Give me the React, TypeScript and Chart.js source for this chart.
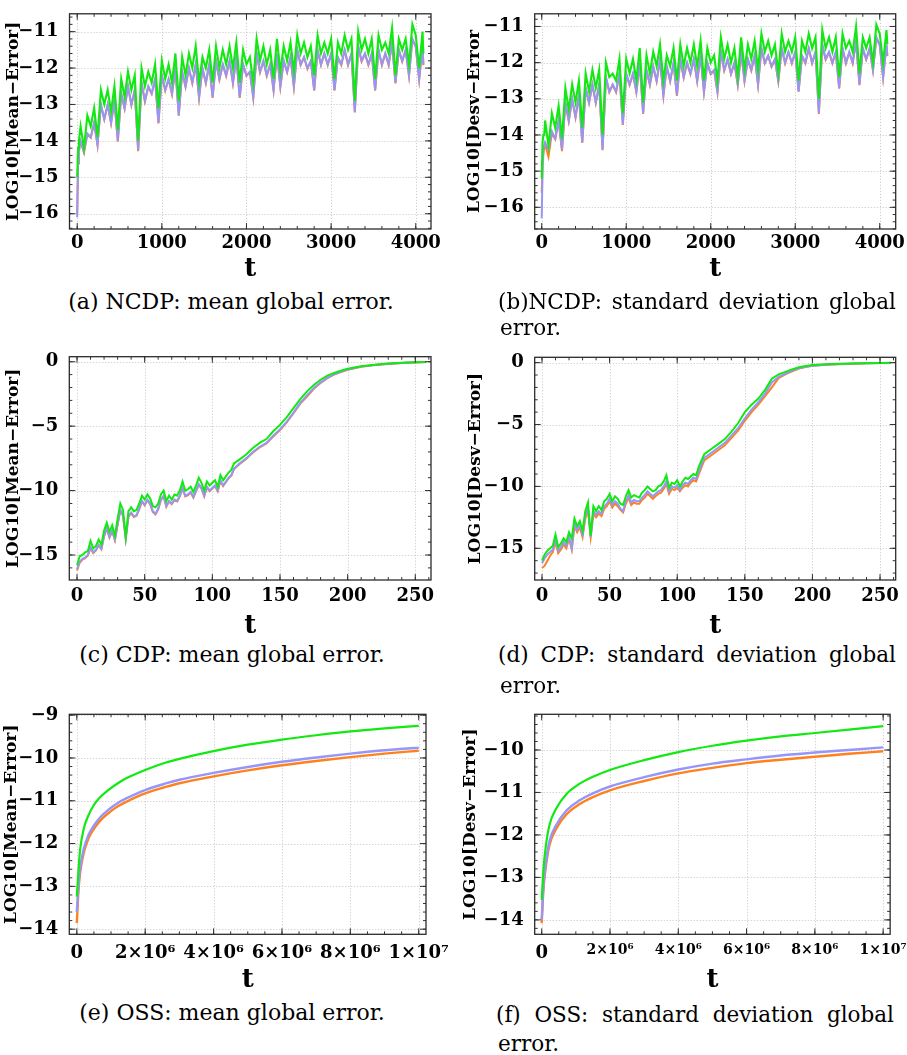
import React, { useEffect, useRef } from 'react';
import { Chart, registerables } from 'chart.js';
Chart.register(...registerables);

const ORANGE = 'rgb(255,128,30)';
const BLUE = 'rgb(150,150,248)';
const GREEN = 'rgb(18,232,18)';
const SERIF = '"DejaVu Serif", serif';

// ---------- NCDP (a, b) ----------
const tN = [
  0, 10, 20, 30, 40, 80, 120, 160, 200, 240,
  280, 320, 360, 400, 440, 480, 520, 560, 600, 640,
  680, 720, 760, 800, 840, 880, 920, 960, 1000, 1040,
  1080, 1120, 1160, 1200, 1240, 1280, 1320, 1360, 1400, 1440,
  1480, 1520, 1560, 1600, 1640, 1680, 1720, 1760, 1800, 1840,
  1880, 1920, 1960, 2000, 2040, 2080, 2120, 2160, 2200, 2240,
  2280, 2320, 2360, 2400, 2440, 2480, 2520, 2560, 2600, 2640,
  2680, 2720, 2760, 2800, 2840, 2880, 2920, 2960, 3000, 3040,
  3080, 3120, 3160, 3200, 3240, 3280, 3320, 3360, 3400, 3440,
  3480, 3520, 3560, 3600, 3640, 3680, 3720, 3760, 3800, 3840,
  3880, 3920, 3960, 4000, 4040, 4080, 4090,
];
const greenA = [
  -15.0, -14.2, -14.0, -13.8, -13.6, -14.2, -13.3, -13.6, -13.1, -13.9,
  -12.6, -13.0, -12.6, -13.2, -12.5, -13.7, -12.3, -12.8, -12.1, -12.6,
  -12.2, -14.0, -12.0, -12.5, -12.1, -12.4, -11.9, -13.1, -11.8, -12.3,
  -11.9, -12.4, -11.6, -12.9, -11.7, -12.2, -11.6, -12.0, -11.4, -12.4,
  -11.7, -12.0, -11.5, -12.4, -11.4, -12.0, -11.5, -11.9, -11.4, -12.0,
  -11.3, -12.4, -11.5, -11.9, -11.7, -12.4, -11.2, -11.8, -11.4, -11.9,
  -11.5, -12.3, -11.2, -12.1, -11.4, -11.8, -11.3, -12.1, -11.1, -11.6,
  -11.3, -11.7, -11.4, -12.2, -11.1, -11.6, -11.3, -11.6, -11.2, -12.3,
  -11.3, -11.6, -11.1, -11.5, -11.2, -12.9, -11.0, -11.5, -11.2, -11.6,
  -11.2, -12.3, -11.1, -11.5, -11.3, -11.6, -10.9, -12.2, -11.2, -11.5,
  -11.2, -11.9, -10.8, -11.1, -12.0, -11.0, -11.6,
];
const blueA = [
  -16.1, -14.6, -14.3, -14.1, -14.0, -14.3, -13.8, -13.9, -13.5, -14.1,
  -13.0, -13.4, -13.0, -13.5, -12.9, -14.0, -12.7, -13.1, -12.5, -13.0,
  -12.6, -14.25, -12.4, -12.9, -12.5, -12.7, -12.3, -13.5, -12.2, -12.6,
  -12.3, -12.7, -12.0, -13.3, -12.1, -12.5, -12.0, -12.4, -11.9, -12.8,
  -12.0, -12.4, -11.9, -12.8, -11.8, -12.3, -11.9, -12.2, -11.8, -12.4,
  -11.7, -12.8, -11.9, -12.2, -12.1, -12.8, -11.6, -12.1, -11.8, -12.2,
  -11.9, -12.6, -11.6, -12.5, -11.8, -12.1, -11.7, -12.5, -11.5, -11.9,
  -11.7, -12.0, -11.8, -12.6, -11.5, -11.9, -11.6, -11.9, -11.6, -12.6,
  -11.7, -11.9, -11.5, -11.9, -11.6, -13.2, -11.4, -11.8, -11.6, -11.9,
  -11.6, -12.6, -11.5, -11.9, -11.6, -11.9, -11.3, -12.4, -11.5, -11.8,
  -11.5, -12.2, -11.2, -11.4, -12.3, -11.4, -11.9,
];
const orangeA = [
  -16.0, -14.62, -14.31, -14.12, -14.02, -14.32, -13.81, -13.91, -13.51, -14.12,
  -13.02, -13.41, -13.01, -13.52, -12.91, -14.02, -12.71, -13.12, -12.51, -13.02,
  -12.61, -14.28, -12.41, -12.92, -12.52, -12.71, -12.31, -13.52, -12.21, -12.62,
  -12.31, -12.72, -12.01, -13.31, -12.11, -12.52, -12.01, -12.42, -11.91, -12.82,
  -12.01, -12.42, -11.91, -12.82, -11.81, -12.32, -11.91, -12.22, -11.81, -12.42,
  -11.71, -12.82, -11.91, -12.22, -12.11, -12.82, -11.61, -12.12, -11.81, -12.22,
  -11.91, -12.62, -11.61, -12.52, -11.81, -12.12, -11.71, -12.52, -11.51, -11.92,
  -11.71, -12.02, -11.81, -12.62, -11.51, -11.92, -11.61, -11.92, -11.61, -12.62,
  -11.71, -11.92, -11.51, -11.92, -11.61, -13.22, -11.41, -11.82, -11.61, -11.92,
  -11.61, -12.62, -11.51, -11.92, -11.61, -11.92, -11.31, -12.42, -11.51, -11.82,
  -11.51, -12.22, -11.21, -11.42, -12.32, -11.41, -11.92,
];
const greenB = [
  -15.2, -14.2, -14.0, -14.0, -13.6, -14.3, -13.4, -13.8, -13.2, -14.1,
  -12.7, -13.3, -12.6, -13.1, -12.5, -13.8, -12.3, -12.8, -12.2, -12.7,
  -12.2, -14.0, -12.0, -12.4, -12.3, -12.5, -11.9, -13.4, -11.9, -12.3,
  -11.9, -12.5, -11.6, -13.1, -11.8, -12.3, -11.7, -12.1, -11.5, -12.5,
  -11.8, -12.1, -11.6, -12.5, -11.5, -12.1, -11.6, -12.0, -11.5, -12.1,
  -11.4, -12.5, -11.6, -12.0, -11.8, -12.5, -11.3, -11.9, -11.5, -12.0,
  -11.6, -12.4, -11.3, -12.2, -11.5, -11.9, -11.4, -12.2, -11.2, -11.7,
  -11.4, -11.8, -11.5, -12.3, -11.2, -11.7, -11.4, -11.7, -11.3, -12.5,
  -11.4, -11.7, -11.2, -11.6, -11.3, -13.0, -11.1, -11.6, -11.3, -11.7,
  -11.3, -12.4, -11.2, -11.6, -11.4, -11.7, -11.0, -12.3, -11.3, -11.6,
  -11.3, -12.0, -10.95, -11.2, -12.0, -11.1, -11.5,
];
const blueB = [
  -16.3, -15.0, -14.4, -14.3, -14.2, -14.4, -13.9, -14.1, -13.6, -14.4,
  -13.1, -13.6, -13.0, -13.5, -12.9, -14.2, -12.7, -13.1, -12.6, -13.1,
  -12.6, -14.4, -12.4, -12.8, -12.6, -12.8, -12.3, -13.7, -12.3, -12.6,
  -12.3, -12.8, -12.0, -13.4, -12.2, -12.6, -12.1, -12.5, -11.9, -12.9,
  -12.1, -12.5, -12.0, -12.9, -11.9, -12.4, -12.0, -12.3, -11.9, -12.5,
  -11.8, -12.8, -12.0, -12.3, -12.2, -12.8, -11.7, -12.2, -11.9, -12.3,
  -12.0, -12.6, -11.7, -12.5, -11.9, -12.2, -11.8, -12.6, -11.6, -12.0,
  -11.8, -12.1, -11.9, -12.5, -11.6, -12.0, -11.7, -12.0, -11.7, -12.8,
  -11.8, -12.0, -11.6, -12.0, -11.7, -13.4, -11.5, -11.9, -11.7, -12.0,
  -11.7, -12.7, -11.6, -12.0, -11.7, -12.0, -11.4, -12.6, -11.6, -11.9,
  -11.6, -12.2, -11.3, -11.5, -12.4, -11.5, -11.8,
];
const orangeB = [
  -15.6, -14.8, -14.5, -14.35, -14.25, -14.6, -13.95, -14.12, -13.62, -14.45,
  -13.12, -13.62, -13.02, -13.52, -12.92, -14.22, -12.72, -13.12, -12.62, -13.12,
  -12.62, -14.42, -12.42, -12.82, -12.62, -12.82, -12.32, -13.72, -12.32, -12.62,
  -12.32, -12.82, -12.02, -13.42, -12.22, -12.62, -12.12, -12.52, -11.92, -12.92,
  -12.12, -12.52, -12.02, -12.92, -11.92, -12.42, -12.02, -12.32, -11.92, -12.52,
  -11.82, -12.82, -12.02, -12.32, -12.22, -12.82, -11.72, -12.22, -11.92, -12.32,
  -12.02, -12.62, -11.72, -12.52, -11.92, -12.22, -11.82, -12.62, -11.62, -12.02,
  -11.82, -12.12, -11.92, -12.52, -11.62, -12.02, -11.72, -12.02, -11.72, -12.8,
  -11.82, -12.02, -11.62, -12.02, -11.72, -13.42, -11.52, -11.92, -11.72, -12.02,
  -11.72, -12.72, -11.62, -12.02, -11.72, -12.02, -11.42, -12.62, -11.62, -11.92,
  -11.62, -12.22, -11.32, -11.52, -12.42, -11.52, -11.82,
];

// ---------- CDP (c, d) ----------
const tC = [
  0, 2, 4, 6, 8, 10, 12, 14, 16, 18,
  20, 22, 24, 26, 28, 30, 32, 34, 36, 38,
  40, 42, 44, 46, 48, 50, 52, 54, 56, 58,
  60, 62, 64, 66, 68, 70, 72, 74, 76, 78,
  80, 82, 84, 86, 88, 90, 92, 94, 96, 98,
  100, 102, 104, 106, 108, 110, 112, 114, 116, 120,
  125, 130, 135, 140, 145, 150, 155, 160, 165, 170,
  175, 180, 185, 190, 195, 200, 210, 220, 230, 240,
  250, 258,
];
const greenC = [
  -15.8, -15.1, -15.0, -14.8, -14.7, -13.9, -14.5, -14.3, -13.8, -14.2,
  -13.1, -12.5, -13.2, -12.7, -13.5, -12.2, -11.0, -11.5, -13.6, -11.6,
  -11.3, -11.6, -11.5, -11.0, -10.4, -10.7, -10.3, -10.6, -11.2, -11.3,
  -11.0, -10.3, -10.0, -10.8, -10.4, -10.7, -10.3, -10.4, -10.0, -9.3,
  -10.0, -9.9, -9.7, -10.1, -9.6, -9.0, -9.4, -10.0, -9.3, -9.6,
  -9.4, -9.2, -9.7, -8.8, -9.2, -8.9, -8.6, -8.4, -7.9, -7.6,
  -7.2, -6.7, -6.3, -6.0, -5.4, -4.9, -4.3, -3.6, -2.9, -2.3,
  -1.8, -1.4, -1.08, -0.87, -0.7, -0.55, -0.35, -0.23, -0.14, -0.08,
  -0.04, -0.02,
];
const blueC = [
  -16.1, -15.5, -15.3, -15.2, -15.0, -14.4, -14.8, -14.6, -14.2, -14.5,
  -13.5, -12.9, -13.6, -13.1, -13.8, -12.6, -11.5, -11.9, -13.7, -12.0,
  -11.7, -12.0, -11.9, -11.4, -10.8, -11.1, -10.7, -11.0, -11.6, -11.8,
  -11.4, -10.7, -10.4, -11.2, -10.8, -11.0, -10.7, -10.8, -10.4, -9.8,
  -10.4, -10.3, -10.1, -10.5, -10.0, -9.5, -9.8, -10.4, -9.7, -10.0,
  -9.8, -9.6, -10.0, -9.2, -9.6, -9.3, -9.0, -8.8, -8.3, -7.9,
  -7.5, -7.0, -6.6, -6.3, -5.75, -5.25, -4.65, -3.95, -3.2, -2.6,
  -2.05, -1.6, -1.25, -0.98, -0.78, -0.6, -0.38, -0.25, -0.16, -0.09,
  -0.05, -0.03,
];
const orangeC = [
  -16.2, -15.6, -15.35, -15.25, -15.05, -14.45, -14.85, -14.65, -14.25, -14.55,
  -13.55, -12.95, -13.65, -13.15, -13.85, -12.65, -11.55, -11.95, -13.75, -12.05,
  -11.75, -12.05, -11.95, -11.45, -10.85, -11.15, -10.75, -11.05, -11.65, -11.85,
  -11.45, -10.75, -10.45, -11.25, -10.85, -11.05, -10.75, -10.85, -10.45, -9.85,
  -10.45, -10.35, -10.15, -10.55, -10.05, -9.55, -9.85, -10.45, -9.75, -10.05,
  -9.85, -9.65, -10.05, -9.25, -9.65, -9.35, -9.05, -8.85, -8.35, -7.95,
  -7.55, -7.05, -6.65, -6.35, -5.8, -5.3, -4.7, -4.0, -3.25, -2.7,
  -2.1, -1.65, -1.28, -1.0, -0.8, -0.62, -0.39, -0.26, -0.17, -0.1,
  -0.06, -0.03,
];
const greenD = [
  -16.0, -15.5, -15.2, -15.0, -14.8, -13.9, -14.9, -14.6, -14.2, -14.5,
  -13.7, -14.2, -12.6, -13.2, -12.8, -13.6, -12.0, -11.3, -14.0, -11.6,
  -12.0, -11.6, -11.9, -11.2, -11.0, -10.6, -11.2, -10.8, -11.0, -11.4,
  -11.5, -10.8, -10.3, -10.9, -10.7, -10.8, -10.9, -10.5, -10.3, -10.0,
  -10.2, -10.4, -10.3, -10.0, -9.9, -9.6, -9.1, -10.1, -9.7, -9.8,
  -9.5, -10.0, -9.6, -9.3, -9.4, -9.2, -9.0, -9.1, -8.4, -7.4,
  -7.0, -6.6, -6.2, -5.6, -4.9, -4.0, -3.4, -2.9, -2.2, -1.3,
  -0.95, -0.75, -0.55, -0.38, -0.28, -0.2, -0.14, -0.1, -0.07, -0.05,
  -0.03, -0.02,
];
const blueD = [
  -16.2, -15.8, -15.5, -15.3, -15.1, -14.3, -15.2, -14.9, -14.5, -14.8,
  -14.0, -15.0, -13.0, -13.5, -13.1, -13.9, -12.4, -11.7, -14.1, -12.0,
  -12.3, -12.0, -12.2, -11.6, -11.4, -11.0, -11.5, -11.2, -11.4, -11.8,
  -12.0, -11.2, -10.7, -11.3, -11.1, -11.2, -11.2, -10.9, -10.7, -10.4,
  -10.6, -10.8, -10.6, -10.4, -10.3, -10.0, -9.6, -10.4, -10.0, -10.1,
  -9.9, -10.3, -9.9, -9.7, -9.8, -9.5, -9.3, -9.4, -8.8, -7.7,
  -7.3, -6.9, -6.5, -5.9, -5.3, -4.5, -3.8, -3.2, -2.5, -1.6,
  -1.15, -0.9, -0.65, -0.45, -0.33, -0.25, -0.17, -0.12, -0.08, -0.06,
  -0.04, -0.03,
];
const orangeD = [
  -16.6, -16.4, -16.0, -15.6, -15.3, -14.5, -15.4, -15.1, -14.7, -15.0,
  -14.2, -15.1, -13.2, -13.7, -13.3, -14.1, -12.6, -11.9, -14.1, -12.2,
  -12.5, -12.2, -12.4, -11.8, -11.6, -11.2, -11.7, -11.4, -11.6, -11.9,
  -12.1, -11.4, -10.9, -11.5, -11.3, -11.4, -11.4, -11.1, -10.9, -10.6,
  -10.8, -11.0, -10.8, -10.6, -10.5, -10.2, -9.8, -10.6, -10.2, -10.3,
  -10.1, -10.4, -10.1, -9.9, -10.0, -9.7, -9.5, -9.6, -9.0, -7.9,
  -7.5, -7.1, -6.7, -6.1, -5.5, -4.7, -4.0, -3.4, -2.7, -2.0,
  -1.25, -0.95, -0.7, -0.48, -0.35, -0.26, -0.18, -0.13, -0.09, -0.06,
  -0.04, -0.03,
];

// ---------- OSS (e, f) ----------
const tE = [0, 5e4, 1e5, 2e5, 3.4e5, 4.9e5, 6.8e5, 9.7e5, 1.2e6, 1.46e6, 2e6, 2.63e6, 3e6, 4e6, 5e6, 6e6, 7e6, 8e6, 9e6, 1e7];
const greenE = [-13.24, -12.6, -12.12, -11.66, -11.34, -11.11, -10.92, -10.72, -10.59, -10.47, -10.28, -10.1, -10.02, -9.84, -9.69, -9.57, -9.47, -9.38, -9.31, -9.25];
const blueE = [-13.6, -12.97, -12.56, -12.13, -11.8, -11.59, -11.39, -11.18, -11.05, -10.94, -10.75, -10.59, -10.51, -10.35, -10.21, -10.09, -9.99, -9.9, -9.82, -9.76];
const orangeE = [-13.86, -13.08, -12.66, -12.22, -11.88, -11.67, -11.47, -11.26, -11.13, -11.02, -10.83, -10.67, -10.59, -10.43, -10.29, -10.17, -10.07, -9.98, -9.9, -9.83];
const tF = [0, 5e4, 1.2e5, 2.3e5, 4.3e5, 7.2e5, 1.1e6, 1.5e6, 2e6, 3e6, 4e6, 5e6, 6e6, 7e6, 8e6, 9e6, 1e7];
const greenF = [-13.53, -12.82, -12.27, -11.76, -11.37, -11.04, -10.8, -10.63, -10.47, -10.24, -10.05, -9.9, -9.78, -9.68, -9.6, -9.52, -9.44];
const blueF = [-14.0, -13.2, -12.67, -12.14, -11.76, -11.43, -11.19, -11.02, -10.86, -10.64, -10.46, -10.32, -10.22, -10.13, -10.06, -10.0, -9.94];
const orangeF = [-14.08, -13.29, -12.75, -12.23, -11.85, -11.52, -11.28, -11.11, -10.95, -10.73, -10.55, -10.42, -10.31, -10.23, -10.16, -10.09, -10.03];

// ---------- ticks ----------
const yTicksNC = [-16, -15, -14, -13, -12, -11];
const xTicksNC = [0, 1000, 2000, 3000, 4000];
const xLabelsNC = ['0', '1000', '2000', '3000', '4000'];
const yTicksCD = [-15, -10, -5, 0];
const xTicksCD = [0, 50, 100, 150, 200, 250];
const xLabelsCD = ['0', '50', '100', '150', '200', '250'];
const yTicksE = [-14, -13, -12, -11, -10, -9];
const yTicksF = [-14, -13, -12, -11, -10];
const xTicksOS = [0, 2e6, 4e6, 6e6, 8e6, 1e7];
const xLabelsOS = ['0', '2×10⁶', '4×10⁶', '6×10⁶', '8×10⁶', '1×10⁷'];

const minorList = (min: number, max: number, step: number) => {
  const out: number[] = [];
  const start = Math.ceil(min / step);
  for (let i = start; i * step <= max; i++) out.push(i * step);
  return out;
};

const framePlugin = {
  id: 'frame',
  beforeDatasetsDraw(chart: any, _a: any, o: any) {
    const { ctx, chartArea: a, scales } = chart;
    const x = scales.x, y = scales.y;
    ctx.save();
    ctx.strokeStyle = '#c4c4c4';
    ctx.lineWidth = 1;
    ctx.setLineDash([1, 2]);
    ctx.beginPath();
    for (const v of o.xMajor) {
      const p = Math.round(x.getPixelForValue(v)) + 0.5;
      ctx.moveTo(p, a.top); ctx.lineTo(p, a.bottom);
    }
    for (const v of o.yMajor) {
      const p = Math.round(y.getPixelForValue(v)) + 0.5;
      ctx.moveTo(a.left, p); ctx.lineTo(a.right, p);
    }
    ctx.stroke();
    ctx.restore();
  },
  afterDatasetsDraw(chart: any, _a: any, o: any) {
    const { ctx, chartArea: a, scales } = chart;
    const x = scales.x, y = scales.y;
    ctx.save();
    ctx.strokeStyle = '#333';
    ctx.lineWidth = 1;
    ctx.beginPath();
    const tx = (v: number, len: number) => {
      const p = x.getPixelForValue(v);
      if (p < a.left || p > a.right) return;
      ctx.moveTo(p, a.bottom); ctx.lineTo(p, a.bottom - len);
      ctx.moveTo(p, a.top); ctx.lineTo(p, a.top + len);
    };
    const ty = (v: number, len: number) => {
      const p = y.getPixelForValue(v);
      if (p < a.top || p > a.bottom) return;
      ctx.moveTo(a.left, p); ctx.lineTo(a.left + len, p);
      ctx.moveTo(a.right, p); ctx.lineTo(a.right - len, p);
    };
    for (const v of minorList(x.min, x.max, o.xMinor)) tx(v, 3);
    for (const v of minorList(y.min, y.max, o.yMinor)) ty(v, 3);
    for (const v of o.xMajor) tx(v, 6);
    for (const v of o.yMajor) ty(v, 6);
    ctx.stroke();
    ctx.strokeStyle = '#2b2b2b';
    ctx.lineWidth = 1.3;
    ctx.strokeRect(a.left, a.top, a.right - a.left, a.bottom - a.top);
    ctx.restore();
  },
};

type Series = { x: number[]; y: number[]; color: string; lw: number };
type Spec = {
  left: number; top: number; w: number; h: number;
  pad: [number, number, number, number];
  yW: number; xH: number;
  xMin: number; xMax: number; yMin: number; yMax: number;
  xTicks: number[]; xLabels: string[]; yTicks: number[];
  xMinor: number; yMinor: number;
  yTitle: string; yTitlePad: number; tPad: number;
  xTickPad: number; xTickFont: any;
  smooth: boolean;
  series: Series[];
};

const yFmt = (v: number) => (v < 0 ? '−' + Math.abs(v) : String(v));

function Panel({ s }: { s: Spec }) {
  const ref = useRef<HTMLCanvasElement>(null);
  useEffect(() => {
    const chart = new Chart(ref.current as HTMLCanvasElement, {
      type: 'line',
      data: {
        // first dataset is painted on top in Chart.js: green, then blue, then orange underneath
        datasets: s.series.map((se) => ({
          data: se.x.map((x, i) => ({ x, y: se.y[i] })),
          borderColor: se.color,
          backgroundColor: se.color,
          borderWidth: se.lw,
          pointRadius: 0,
          tension: 0,
          cubicInterpolationMode: s.smooth ? 'monotone' : 'default',
          fill: false,
        })),
      },
      options: {
        animation: false,
        responsive: false,
        events: [],
        layout: { padding: { left: s.pad[0], top: s.pad[1], right: s.pad[2], bottom: s.pad[3] } },
        plugins: {
          legend: { display: false },
          tooltip: { enabled: false },
          frame: { xMajor: s.xTicks, yMajor: s.yTicks, xMinor: s.xMinor, yMinor: s.yMinor },
        } as any,
        scales: {
          x: {
            type: 'linear',
            min: s.xMin,
            max: s.xMax,
            afterFit: (sc: any) => { sc.height = s.xH; },
            afterBuildTicks: (sc: any) => { sc.ticks = s.xTicks.map((v) => ({ value: v })); },
            grid: { display: false },
            border: { display: false },
            ticks: {
              autoSkip: false,
              maxRotation: 0,
              minRotation: 0,
              padding: s.xTickPad,
              color: '#000',
              font: s.xTickFont,
              callback: (_v: any, i: number) => s.xLabels[i],
            },
            title: {
              display: true,
              text: 't',
              color: '#000',
              font: { family: SERIF, size: 26, weight: 'bold' },
              padding: { top: 0, bottom: s.tPad },
            },
          },
          y: {
            type: 'linear',
            min: s.yMin,
            max: s.yMax,
            afterFit: (sc: any) => { sc.width = s.yW; },
            afterBuildTicks: (sc: any) => { sc.ticks = s.yTicks.map((v) => ({ value: v })); },
            grid: { display: false },
            border: { display: false },
            ticks: {
              autoSkip: false,
              padding: 3,
              color: '#000',
              font: { family: SERIF, size: 18, weight: 'bold' },
              callback: (v: any) => yFmt(Number(v)),
            },
            title: {
              display: true,
              text: s.yTitle,
              color: '#000',
              font: { family: SERIF, size: 17, weight: 'bold' },
              padding: { top: s.yTitlePad, bottom: 0 },
            },
          },
        },
      } as any,
      plugins: [framePlugin as any],
    });
    return () => chart.destroy();
  }, []);
  return (
    <canvas
      ref={ref}
      width={s.w}
      height={s.h}
      style={{ position: 'absolute', left: s.left, top: s.top, width: s.w, height: s.h }}
    />
  );
}

const bold18 = { family: SERIF, size: 18, weight: 'bold' };
const fontF = (ctx: any) =>
  ctx.index === 0 ? { family: SERIF, size: 18, weight: 'bold' } : { family: SERIF, size: 14, weight: 'bold' };

const specs: Spec[] = [
  {
    left: 0, top: 0, w: 453, h: 286, pad: [0, 6, 22, 0], yW: 69.5, xH: 57,
    xMin: -91, xMax: 4180, yMin: -16.42, yMax: -10.51,
    xTicks: xTicksNC, xLabels: xLabelsNC, yTicks: yTicksNC, xMinor: 200, yMinor: 0.2,
    yTitle: 'LOG10[Mean−Error]', yTitlePad: 3.8, tPad: 1.6, xTickPad: -4, xTickFont: bold18,
    smooth: false,
    series: [
      { x: tN, y: greenA, color: GREEN, lw: 2.1 },
      { x: tN, y: blueA, color: BLUE, lw: 2 },
      { x: tN, y: orangeA, color: ORANGE, lw: 2 },
    ],
  },
  {
    left: 453, top: 0, w: 454, h: 286, pad: [0, 6, 11.3, 0], yW: 81.7, xH: 57,
    xMin: -83, xMax: 4189, yMin: -16.6, yMax: -10.65,
    xTicks: xTicksNC, xLabels: xLabelsNC, yTicks: yTicksNC, xMinor: 200, yMinor: 0.2,
    yTitle: 'LOG10[Desv−Error', yTitlePad: 11.5, tPad: 1.6, xTickPad: -4, xTickFont: bold18,
    smooth: false,
    series: [
      { x: tN, y: greenB, color: GREEN, lw: 2.1 },
      { x: tN, y: blueB, color: BLUE, lw: 2 },
      { x: tN, y: orangeB, color: ORANGE, lw: 2 },
    ],
  },
  {
    left: 0, top: 340, w: 453, h: 302, pad: [0, 16.7, 22, 0], yW: 69.3, xH: 62,
    xMin: -5.7, xMax: 261.6, yMin: -16.94, yMax: 0.39,
    xTicks: xTicksCD, xLabels: xLabelsCD, yTicks: yTicksCD, xMinor: 10, yMinor: 1,
    yTitle: 'LOG10[Mean−Error]', yTitlePad: 3.8, tPad: 0.6, xTickPad: -2, xTickFont: bold18,
    smooth: false,
    series: [
      { x: tC, y: greenC, color: GREEN, lw: 2 },
      { x: tC, y: blueC, color: BLUE, lw: 2 },
      { x: tC, y: orangeC, color: ORANGE, lw: 2 },
    ],
  },
  {
    left: 453, top: 340, w: 454, h: 302, pad: [0, 17.3, 11.3, 0], yW: 81.7, xH: 62,
    xMin: -5.4, xMax: 261.6, yMin: -17.56, yMax: 0.43,
    xTicks: xTicksCD, xLabels: xLabelsCD, yTicks: yTicksCD, xMinor: 10, yMinor: 1,
    yTitle: 'LOG10[Desv−Error]', yTitlePad: 12.5, tPad: 0.6, xTickPad: -2, xTickFont: bold18,
    smooth: false,
    series: [
      { x: tC, y: greenD, color: GREEN, lw: 2 },
      { x: tC, y: blueD, color: BLUE, lw: 2 },
      { x: tC, y: orangeD, color: ORANGE, lw: 2 },
    ],
  },
  {
    left: 0, top: 690, w: 453, h: 302, pad: [0, 24.3, 27, 0], yW: 69.3, xH: 57.7,
    xMin: -2.2e5, xMax: 1.0213e7, yMin: -14.12, yMax: -8.98,
    xTicks: xTicksOS, xLabels: xLabelsOS, yTicks: yTicksE, xMinor: 5e5, yMinor: 0.2,
    yTitle: 'LOG10[Mean−Error]', yTitlePad: 1.5, tPad: -4, xTickPad: 0, xTickFont: bold18,
    smooth: true,
    series: [
      { x: tE, y: greenE, color: GREEN, lw: 2.2 },
      { x: tE, y: blueE, color: BLUE, lw: 2.4 },
      { x: tE, y: orangeE, color: ORANGE, lw: 2.4 },
    ],
  },
  {
    left: 453, top: 690, w: 454, h: 302, pad: [0, 24.3, 16.3, 0], yW: 81.7, xH: 57.7,
    xMin: -2.05e5, xMax: 1.0205e7, yMin: -14.34, yMax: -9.16,
    xTicks: xTicksOS, xLabels: xLabelsOS, yTicks: yTicksF, xMinor: 5e5, yMinor: 0.2,
    yTitle: 'LOG10[Desv−Error]', yTitlePad: 7.8, tPad: -4, xTickPad: 0, xTickFont: fontF,
    smooth: true,
    series: [
      { x: tF, y: greenF, color: GREEN, lw: 2.2 },
      { x: tF, y: blueF, color: BLUE, lw: 2.4 },
      { x: tF, y: orangeF, color: ORANGE, lw: 2.4 },
    ],
  },
];

const capBase: React.CSSProperties = {
  position: 'absolute',
  fontFamily: SERIF,
  fontSize: 21.5,
  lineHeight: '26px',
  color: '#000',
};

function Centered({ text, cx, top }: { text: string; cx: number; top: number }) {
  return (
    <div style={{ ...capBase, fontSize: 22, left: cx - 220, width: 440, top, textAlign: 'center', whiteSpace: 'nowrap' }}>{text}</div>
  );
}

function Justified({ line1, line2, left, top, top2 }: { line1: string; line2: string; left: number; top: number; top2: number }) {
  return (
    <>
      <div style={{ ...capBase, left, width: 398, top, textAlign: 'justify', textAlignLast: 'justify' } as any}>{line1}</div>
      <div style={{ ...capBase, left: left + 2, top: top2, whiteSpace: 'nowrap' }}>{line2}</div>
    </>
  );
}

export default function App() {
  return (
    <div style={{ position: 'absolute', left: 0, top: 0, width: 907, height: 1055, background: '#fff' }}>
      {specs.map((s, i) => (
        <Panel key={i} s={s} />
      ))}
      <Centered text="(a) NCDP: mean global error." cx={231} top={288.7} />
      <Justified line1="(b)NCDP: standard deviation global" line2="error." left={498} top={288.7} top2={315} />
      <Centered text="(c) CDP: mean global error." cx={232} top={642} />
      <Justified line1="(d) CDP: standard deviation global" line2="error." left={498} top={642} top2={673} />
      <Centered text="(e) OSS: mean global error." cx={232} top={1000} />
      <Justified line1="(f) OSS: standard deviation global" line2="error." left={496} top={1002} top2={1031} />
    </div>
  );
}
